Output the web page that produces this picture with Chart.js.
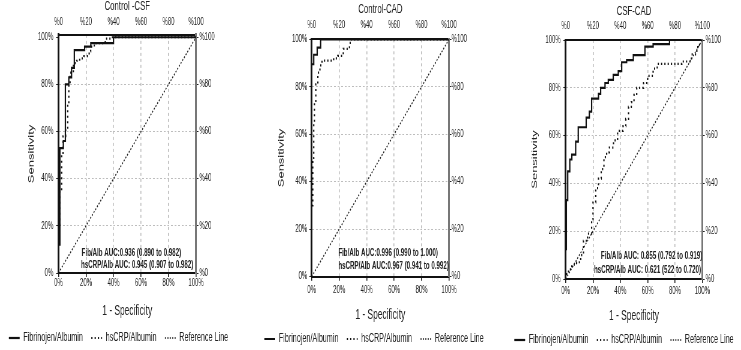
<!DOCTYPE html>
<html>
<head>
<meta charset="utf-8">
<script src="https://cdn.jsdelivr.net/npm/chart.js@4.4.0/dist/chart.umd.min.js"></script>
<style>
  html, body { margin: 0; padding: 0; background: #fff; }
  body { width: 741px; height: 350px; overflow: hidden; position: relative; }
  /* the source figure is squeezed sideways, so each panel is drawn wide and scaled down */
  .panel { position: absolute; top: 0; transform: scaleX(0.6); transform-origin: 0 0; }
  canvas { display: block; }
</style>
</head>
<body>
<div class="panel" style="left:-12px"><canvas id="roc1" width="437" height="354"></canvas></div>
<div class="panel" style="left:250px"><canvas id="roc2" width="420" height="355"></canvas></div>
<div class="panel" style="left:495px"><canvas id="roc3" width="425" height="356"></canvas></div>
<script>
// series names / tick labels
const seriesNames = ['Fibrinojen/Albumin', 'hsCRP/Albumin', 'Reference Line'];
const bottomLabels = ['0%', '20%', '40%', '60%', '80%', '100%'];
const leftLabels = ['0%', '20%', '40%', '60%', '80%', '100%'];
const topLabels = ['%0', '%20', '%40', '%60', '%80', '%100'];
const rightLabels = ['%0', '%20', '%40', '%60', '%80', '%100'];

// Control -CSF  (1 - specificity, sensitivity)
const csfFibX = [0, 0, 1, 1, 3.5, 3.5, 5, 5, 7.5, 7.5, 9.5, 9.5, 11.5, 11.5, 19, 19, 23.5, 23.5, 40, 40, 100];
const csfFibY = [0, 12, 12, 53, 53, 56, 56, 80, 80, 83, 83, 87, 87, 94.5, 94.5, 96, 96, 97.5, 97.5, 100, 100];
const csfHsX = [0, 0, 1, 1, 2.3, 2.3, 3.3, 3.3, 5.2, 5.2, 6.7, 6.7, 7.5, 7.5, 8.4, 8.4, 10.8, 10.8, 13.2, 13.2, 15.4, 15.4, 18.5, 18.5, 22.3, 22.3, 23.4, 23.4, 26, 26, 34, 34, 38, 38, 100];
const csfHsY = [0, 20, 20, 35, 35, 50, 50, 58, 58, 61, 61, 72, 72, 80, 80, 85, 85, 89, 89, 90, 90, 91, 91, 92, 92, 94, 94, 96, 96, 97.5, 97.5, 99.4, 99.4, 100, 100];
const aucCsf = ['Fib/Alb AUC:0.936 (0.890 to 0.982)', 'hsCRP/Alb AUC: 0.945 (0.907 to 0.982)'];

// Control-CAD
const cadFibX = [0, 0, 1.5, 1.5, 4, 4, 6.5, 6.5, 100];
const cadFibY = [0, 89.5, 89.5, 93.5, 93.5, 96.5, 96.5, 100, 100];
const cadHsX = [0, 0, 0.8, 0.8, 1.5, 1.5, 2, 2, 3, 3, 4.5, 4.5, 6, 6, 7.5, 7.5, 16, 16, 19, 19, 23, 23, 27.5, 27.5, 28.5, 28.5, 100];
const cadHsY = [0, 30, 30, 50, 50, 65, 65, 74, 74, 81, 81, 86, 86, 89, 89, 91, 91, 92, 92, 93, 93, 96, 96, 98.5, 98.5, 100, 100];
const aucCad = ['Fib/Alb AUC:0.996 (0.990 to 1.000)', 'hsCRP/Alb AUC:0.967 (0.941 to 0.992)'];

// CSF-CAD
const ccFibX = [0, 0, 0.5, 0.5, 1.5, 1.5, 3, 3, 4.5, 4.5, 7.3, 7.3, 9.2, 9.2, 15, 15, 17.3, 17.3, 19, 19, 24, 24, 25.6, 25.6, 28.8, 28.8, 31.2, 31.2, 34.8, 34.8, 38.5, 38.5, 41, 41, 44.6, 44.6, 49.5, 49.5, 58, 58, 64, 64, 76, 76, 100];
const ccFibY = [0, 12.5, 12.5, 33, 33, 45, 45, 50, 50, 52, 52, 57.5, 57.5, 63.5, 63.5, 67.5, 67.5, 70, 70, 75.5, 75.5, 77.5, 77.5, 80, 80, 82, 82, 83.3, 83.3, 85.4, 85.4, 87, 87, 90.7, 90.7, 91.6, 91.6, 93.7, 93.7, 97.2, 97.2, 98.3, 98.3, 100, 100];
const ccHsX = [0, 0, 2, 2, 4.5, 4.5, 8, 8, 11, 11, 13, 13, 16, 16, 19, 19, 20, 20, 22, 22, 24, 24, 26, 26, 28, 28, 30, 30, 32, 32, 35, 35, 38, 38, 42, 42, 44, 44, 46, 46, 48, 48, 50, 50, 52, 52, 57, 57, 60, 60, 64, 64, 67, 67, 85, 85, 92, 92, 96, 96, 98, 98, 100];
const ccHsY = [0, 2, 2, 4, 4, 6, 6, 7, 7, 10, 10, 16, 16, 19, 19, 25, 25, 32, 32, 38, 38, 42, 42, 46, 46, 51, 51, 53, 53, 55, 55, 58, 58, 62, 62, 64, 64, 67, 67, 72, 72, 74, 74, 77, 77, 80, 80, 82, 82, 85, 85, 88, 88, 90, 90, 91, 91, 94, 94, 97, 97, 100, 100];
const aucCsfCad = ['Fib/Alb AUC: 0.855 (0.792 to 0.919)', 'hsCRP/Alb AUC: 0.621 (522 to 0.720)'];

// diagonal
const refX = [0, 100];
const refY = [0, 100];

Chart.defaults.font.family = '"Liberation Sans", Arial, sans-serif';
Chart.defaults.color = '#222';

function pts(xs, ys) {
    return xs.map((x, i) => ({ x: x, y: ys[i] }));
}

// dashed gray grid only on the inner ticks
const gridColor = c => (c.tick && c.tick.value > 0 && c.tick.value < 100) ? '#bdbdbd' : 'rgba(0,0,0,0)';

// legend marks should keep the dataset dash (point style would drop it)
function legendLabels(chart) {
    const items = Chart.defaults.plugins.legend.labels.generateLabels(chart);
    return items.map((it, i) => {
        const ds = chart.data.datasets[i];
        it.lineDash = ds.borderDash || [];
        it.lineWidth = ds.borderWidth;
        it.strokeStyle = ds.borderColor;
        return it;
    });
}

// AUC text inside the plot, placed in data units
const aucPlugin = {
    id: 'aucText',
    afterDatasetsDraw(chart, args, opts) {
        const { ctx, scales } = chart;
        ctx.save();
        ctx.font = 'bold 10.3px "Liberation Sans", Arial, sans-serif';
        ctx.fillStyle = '#222';
        ctx.textBaseline = 'middle';
        ctx.textAlign = 'left';
        opts.lines.forEach(l => {
            ctx.fillText(l.text, scales.x.getPixelForValue(l.x), scales.y.getPixelForValue(l.y));
        });
        ctx.restore();
    }
};

function makeChart(p) {
    const tickFont = { size: 10 };
    return new Chart(document.getElementById(p.id), {
        type: 'line',
        data: {
            datasets: [
                { label: seriesNames[0], data: pts(p.fibX, p.fibY), borderColor: '#111', backgroundColor: '#111', borderWidth: 2.2, pointRadius: 0, tension: 0 },
                { label: seriesNames[1], data: pts(p.hsX, p.hsY), borderColor: '#111', backgroundColor: '#111', borderWidth: 2.2, borderDash: [2, 3.5], pointRadius: 0, tension: 0 },
                { label: seriesNames[2], data: pts(refX, refY), borderColor: '#222', backgroundColor: '#222', borderWidth: 1.5, borderDash: [2, 2], pointRadius: 0, tension: 0 }
            ]
        },
        plugins: [aucPlugin],
        options: {
            responsive: false,
            animation: false,
            events: [],
            layout: { padding: { left: p.pl, right: p.pr, top: 0, bottom: 0 } },
            scales: {
                x: {
                    type: 'linear', position: 'bottom', min: 0, max: 100,
                    afterFit: a => { a.height = p.botH; },
                    ticks: { stepSize: 20, padding: p.botTickPad, maxRotation: 0, autoSkip: false, font: tickFont, callback: v => bottomLabels[Math.round(v / 20)] },
                    grid: { color: gridColor, lineWidth: 1.6, tickLength: 4, tickColor: '#222', tickWidth: 1.6 },
                    border: { color: '#111', width: 2, dash: [3, 3] },
                    title: { display: true, text: '1 - Specificity', font: { size: 14 }, padding: { top: 0, bottom: p.xTitlePad } }
                },
                x2: {
                    type: 'linear', position: 'top', min: 0, max: 100,
                    afterFit: a => { a.height = p.topH; },
                    ticks: { stepSize: 20, padding: p.topTickPad, maxRotation: 0, autoSkip: false, font: tickFont, callback: v => topLabels[Math.round(v / 20)] },
                    grid: { drawOnChartArea: false, drawTicks: false },
                    border: { color: '#111', width: 2 },
                    title: { display: true, text: p.title, font: { size: 13 }, padding: { top: p.titlePadTop, bottom: 0 } }
                },
                y: {
                    type: 'linear', position: 'left', min: 0, max: p.yMax,
                    afterFit: a => { a.width = p.yW; },
                    ticks: { stepSize: 20, includeBounds: false, padding: p.leftTickPad, font: tickFont, callback: v => leftLabels[Math.round(v / 20)] },
                    grid: { color: gridColor, lineWidth: 1, tickLength: 4, tickColor: '#222', tickWidth: 1 },
                    border: { color: '#111', width: 3, dash: [3, 3] },
                    title: { display: true, text: 'Sensitivity', font: { size: 13 }, padding: { top: p.yTitlePad, bottom: 0 } }
                },
                y2: {
                    type: 'linear', position: 'right', min: 0, max: p.yMax,
                    afterFit: a => { a.width = p.y2W; },
                    ticks: { stepSize: 20, includeBounds: false, padding: p.rightTickPad, font: tickFont, callback: v => rightLabels[Math.round(v / 20)] },
                    grid: { drawOnChartArea: false, tickLength: 4, tickColor: '#222', tickWidth: 1 },
                    border: { color: '#777', width: 3 }
                }
            },
            plugins: {
                legend: {
                    position: 'bottom',
                    labels: {
                        usePointStyle: true, pointStyle: 'line', pointStyleWidth: 18, padding: 14,
                        font: { size: 12 }, color: '#222', generateLabels: legendLabels
                    }
                },
                tooltip: { enabled: false },
                aucText: { lines: p.auc }
            }
        }
    });
}

makeChart({
    id: 'roc1', title: 'Control -CSF', yMax: 101,
    fibX: csfFibX, fibY: csfFibY, hsX: csfHsX, hsY: csfHsY,
    pl: 0, pr: 2, yW: 117.5, y2W: 88.3, topH: 34.9, botH: 45,
    titlePadTop: -1.1, topTickPad: 6.2, botTickPad: 0.3, xTitlePad: -1.1, yTitlePad: 65,
    leftTickPad: 4.7, rightTickPad: 1.5,
    auc: [{ text: aucCsf[0], x: 16.8, y: 8.6 }, { text: aucCsf[1], x: 16.4, y: 3.4 }]
});

makeChart({
    id: 'roc2', title: 'Control-CAD', yMax: 100,
    fibX: cadFibX, fibY: cadFibY, hsX: cadHsX, hsY: cadHsY,
    pl: 0, pr: 6.6, yW: 102.8, y2W: 81.7, topH: 39.3, botH: 42.3,
    titlePadTop: 1.2, topTickPad: 8.3, botTickPad: 4, xTitlePad: -4.4, yTitlePad: 45,
    leftTickPad: 3.3, rightTickPad: 0.4,
    auc: [{ text: aucCad[0], x: 19.4, y: 10.1 }, { text: aucCad[1], x: 19.4, y: 4.6 }]
});

makeChart({
    id: 'roc3', title: 'CSF-CAD', yMax: 100,
    fibX: ccFibX, fibY: ccFibY, hsX: ccHsX, hsY: ccHsY,
    pl: 5, pr: 0, yW: 112.8, y2W: 79.5, topH: 40, botH: 41,
    titlePadTop: 3.2, topTickPad: 8, botTickPad: 2.7, xTitlePad: -4.1, yTitlePad: 53.9,
    leftTickPad: 4.3, rightTickPad: 1.6,
    auc: [{ text: aucCsfCad[0], x: 25.8, y: 9.6 }, { text: aucCsfCad[1], x: 20.7, y: 3.8 }]
});
</script>
</body>
</html>
